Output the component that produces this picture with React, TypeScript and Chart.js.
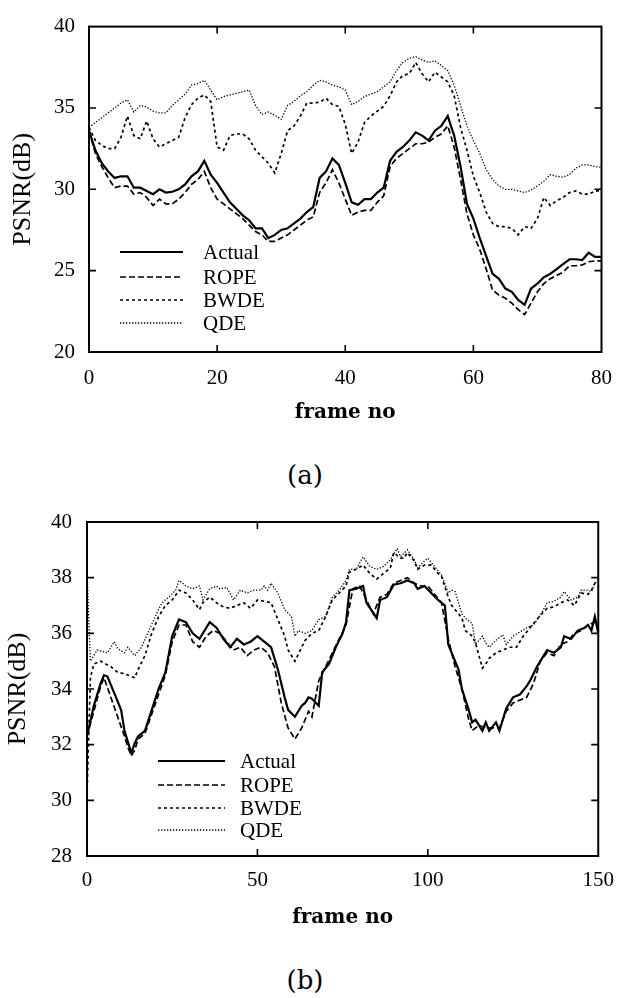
import React, { useEffect, useRef } from "react";
import { Chart, registerables } from "chart.js";

Chart.register(...registerables);

// ---------- Chart (a) data ----------
const framesA = [
  0, 1, 2, 3, 4, 5, 6, 7, 8, 9, 10, 11, 12, 13, 14, 15, 16, 17, 18, 19, 20,
  21, 22, 23, 24, 25, 26, 27, 28, 29, 30, 31, 32, 33, 34, 35, 36, 37, 38, 39, 40,
  41, 42, 43, 44, 45, 46, 47, 48, 49, 50, 51, 52, 53, 54, 55, 56, 57, 58, 59, 60,
  61, 62, 63, 64, 65, 66, 67, 68, 69, 70, 71, 72, 73, 74, 75, 76, 77, 78, 79, 80,
];
const actualA = [
  33.6, 32.4, 31.6, 31.1, 30.7, 30.8, 30.8, 30.1, 30.1, 29.9,
  29.7, 30.0, 29.8, 29.85, 30.0, 30.3, 30.8, 31.1, 31.75, 30.9,
  30.4, 29.8, 29.2, 28.8, 28.4, 28.1, 27.6, 27.6, 27.0, 27.2,
  27.5, 27.6, 27.9, 28.2, 28.6, 28.9, 30.7, 31.1, 31.9, 31.5,
  30.4, 29.2, 29.05, 29.4, 29.4, 29.8, 30.1, 31.75, 32.3, 32.6,
  33.0, 33.5, 33.3, 33.0, 33.6, 33.9, 34.5, 33.3, 31.4, 29.1,
  28.2, 27.0, 25.9, 24.8, 24.5, 23.9, 23.7, 23.2, 22.9, 23.9,
  24.2, 24.6, 24.8, 25.1, 25.4, 25.7, 25.7, 25.65, 26.1, 25.85, 25.85,
];
const ropeA = [
  33.6, 32.2, 31.4, 30.7, 30.1, 30.2, 30.2, 29.7, 29.8, 29.5,
  29.0, 29.4, 29.1, 29.1, 29.4, 29.8, 30.3, 30.6, 31.1, 30.1,
  29.4, 29.1, 28.8, 28.5, 28.2, 27.8, 27.4, 27.2, 26.8, 26.8,
  27.0, 27.2, 27.5, 27.8, 28.1, 28.3, 29.8, 30.4, 31.2, 30.4,
  29.4, 28.4, 28.6, 28.7, 28.7, 29.2, 29.6, 31.4, 31.9, 32.2,
  32.5, 32.8, 32.8, 32.9, 33.2, 33.4, 33.9, 32.6, 30.6, 28.5,
  27.2, 26.3, 25.1, 23.8, 23.5, 23.3, 23.0, 22.6, 22.3, 23.0,
  23.7, 24.2, 24.5, 24.7, 24.9, 25.3, 25.3, 25.35, 25.55, 25.6, 25.6,
];
const bwdeA = [
  33.8, 33.0, 32.7, 32.5, 32.5, 33.2, 34.5, 33.3, 33.1, 34.2,
  33.1, 32.6, 32.8, 33.0, 33.2, 34.4, 35.2, 35.6, 35.8, 35.4,
  32.6, 32.4, 33.3, 33.4, 33.4, 33.1, 32.4, 32.0, 31.6, 31.0,
  32.2, 33.6, 33.9, 34.5, 35.3, 35.3, 35.35, 35.6, 35.2, 35.1,
  34.0, 32.2, 32.9, 34.1, 34.5, 34.8, 35.1, 35.75, 36.6, 37.0,
  37.1, 37.8, 37.1, 36.6, 37.2, 36.9, 36.6, 35.75, 33.8, 32.4,
  30.8, 29.8, 28.6, 27.9, 27.7, 27.7, 27.6, 27.2, 27.7, 27.6,
  28.2, 29.5, 29.0, 29.3, 29.5, 29.8, 29.9, 29.7, 29.7, 29.9, 29.9,
];
const qdeA = [
  33.8, 34.1, 34.4, 34.7, 35.0, 35.3, 35.5, 34.75, 35.15, 35.05,
  34.8, 34.7, 34.7, 35.15, 35.5, 35.85, 36.4, 36.5, 36.7, 36.1,
  35.5, 35.7, 35.8, 35.9, 36.0, 36.1, 35.15, 34.6, 34.75, 34.55,
  34.3, 35.15, 35.4, 35.75, 36.0, 36.4, 36.7, 36.6, 36.4, 36.3,
  36.1, 35.2, 35.4, 35.7, 35.85, 36.0, 36.3, 36.6, 37.3, 37.8,
  38.05, 38.15, 37.95, 37.8, 37.9, 37.6, 37.3, 36.4, 35.15, 33.9,
  33.0, 32.2, 31.2, 30.6, 30.2, 30.0, 30.0, 29.9, 29.8, 29.95,
  30.2, 30.5, 30.9, 30.8, 30.75, 30.9, 31.3, 31.5, 31.5, 31.4, 31.35,
];

// ---------- Chart (b) data ----------
const actualBFrames = [0,2,4,5,6,8,10,11,13,14,15,17,19,21,23,25,27,29,31,33,35,36,38,40,42,44,46,48,50,52,54,56,58,59,61,63,64,65,66,68,69,71,73,75,76,77,79,81,82,85,86,88,90,92,94,96,97,99,101,103,105,106,107,109,110,112,113,114,116,117,118,120,121,123,125,127,129,130,132,134,135,137,139,140,142,144,146,147,148,149,150];
const actualBValues = [32.3,33.4,34.2,34.5,34.45,33.85,33.25,32.5,31.7,32.05,32.3,32.5,33.25,34.0,34.6,35.9,36.5,36.4,36.0,35.8,36.2,36.4,36.2,35.8,35.5,35.8,35.6,35.7,35.9,35.7,35.5,34.7,33.7,33.25,33.0,33.4,33.5,33.7,33.65,33.4,34.6,34.9,35.5,36.0,36.4,37.55,37.6,37.7,37.1,36.55,37.2,37.3,37.75,37.8,37.9,37.8,37.6,37.7,37.45,37.2,37.0,35.6,35.3,34.7,34.0,33.25,32.8,32.9,32.5,32.8,32.5,32.8,32.5,33.3,33.7,33.8,34.1,34.3,34.8,35.2,35.4,35.3,35.5,35.9,35.8,36.1,36.2,36.3,36.1,36.6,36.0];

const ropeBFrames = [0,2,4,5,7,9,11,12,13,14,15,17,19,21,23,25,27,29,31,33,35,37,39,41,43,45,47,49,51,53,55,57,59,61,63,65,66,68,70,72,74,76,78,80,82,84,86,88,90,92,94,96,98,100,102,104,106,108,110,112,113,115,117,119,121,123,125,127,129,131,133,135,137,139,141,143,145,147,149,150];
const ropeBValues = [32.3,33.2,34.1,34.4,33.7,33.0,32.3,31.9,31.6,31.8,32.2,32.4,33.1,33.8,34.5,35.7,36.3,36.3,35.7,35.5,35.9,36.1,36.0,35.7,35.4,35.5,35.2,35.4,35.5,35.3,34.8,33.5,32.6,32.2,32.6,33.2,33.0,34.3,34.8,35.3,35.8,36.3,37.6,37.7,37.2,36.7,37.3,37.4,37.8,37.9,38.0,37.8,37.7,37.7,37.4,37.1,35.8,34.8,34.0,32.9,32.5,32.7,32.6,32.6,32.6,33.2,33.5,33.6,33.7,34.2,35.0,35.3,35.2,35.6,35.7,36.0,36.1,36.3,36.4,36.5];

const bwdeBFrames = [0,1,2,4,7,9,11,14,15,17,19,21,23,25,27,29,31,33,34,36,38,40,42,44,46,48,50,52,54,56,58,59,61,63,64,66,68,70,72,74,76,77,79,81,83,85,87,89,90,92,93,94,96,97,99,101,103,104,106,107,108,110,111,113,114,116,117,118,120,122,124,126,128,129,131,133,135,137,139,141,143,145,147,148,149,150];
const bwdeBValues = [30.2,34.4,34.9,35.0,34.8,34.6,34.55,34.4,34.7,35.2,36.0,36.6,37.0,37.2,37.55,37.45,37.2,36.85,37.1,37.3,37.1,36.95,36.9,37.0,37.1,36.9,37.2,37.15,37.1,36.5,35.9,35.4,35.0,35.5,35.75,36.0,36.1,36.6,37.2,37.45,37.7,38.2,38.3,38.45,38.15,37.95,38.15,38.35,38.9,38.7,38.7,38.9,38.6,38.3,38.45,38.45,38.15,38.05,37.3,37.0,36.85,36.55,36.1,35.9,35.65,34.75,34.9,35.1,35.3,35.4,35.5,35.5,35.9,36.05,36.35,36.65,36.9,36.95,37.1,37.2,37.0,37.45,37.4,37.55,37.8,37.7];

const qdeBFrames = [0,1,3,6,8,9,11,12,14,16,18,20,22,24,26,27,29,31,33,34,36,38,39,41,43,45,47,49,51,52,53,54,56,58,60,61,62,64,66,68,70,72,74,76,77,79,81,83,85,87,89,91,92,94,96,97,99,100,102,104,106,107,108,110,111,113,114,116,117,118,120,122,123,125,127,129,131,133,135,137,139,140,142,144,145,147,148,149,150];
const qdeBValues = [38.2,35.0,35.4,35.3,35.7,35.45,35.3,35.5,35.2,35.5,36.05,36.6,37.1,37.3,37.55,37.9,37.7,37.6,37.7,37.2,37.6,37.7,37.6,37.65,37.2,37.55,37.45,37.55,37.55,37.7,37.55,37.8,37.45,36.85,36.6,35.9,36.1,36.0,36.1,36.5,36.6,37.3,37.55,37.9,38.3,38.3,38.75,38.4,38.3,38.4,38.65,39.05,38.75,39.0,38.65,38.35,38.6,38.7,38.4,38.1,37.45,37.55,37.5,36.7,36.55,36.35,35.6,35.9,35.65,35.5,35.75,35.95,35.6,35.9,36.05,36.2,36.3,36.65,37.1,37.15,37.3,37.5,37.2,37.3,37.55,37.55,37.5,37.8,37.9];

const seriesLabels = ["Actual", "ROPE", "BWDE", "QDE"];
const xTicksA = [0, 20, 40, 60, 80];
const yTicksA = [20, 25, 30, 35, 40];
const xTicksB = [0, 50, 100, 150];
const yTicksB = [28, 30, 32, 34, 36, 38, 40];

// line styles per series
const lineStyles = [
  { width: 2.2, dash: [] as number[] },
  { width: 1.7, dash: [6, 3] },
  { width: 1.7, dash: [3, 3] },
  { width: 1.3, dash: [1.3, 1.7] },
];

const pts = (xs: number[], ys: number[]) =>
  xs.slice(0, Math.min(xs.length, ys.length)).map((x, i) => ({ x, y: ys[i] }));

const TICK_FONT = { family: "'Liberation Serif', 'Times New Roman', serif", size: 21 };

const framePlugin = {
  id: "frameLegend",
  afterDatasetsDraw(chart: any, _args: any, opts: any) {
    const { ctx, chartArea: a, scales } = chart;
    ctx.save();
    ctx.strokeStyle = "#000";
    ctx.setLineDash([]);
    ctx.lineWidth = 2;
    ctx.strokeRect(a.left, a.top, a.right - a.left, a.bottom - a.top);
    const L = 7;
    ctx.lineWidth = 1.6;
    const xs = scales.x;
    xs.ticks.forEach((t: any) => {
      if (t.value <= xs.min || t.value >= xs.max) return;
      const px = xs.getPixelForValue(t.value);
      ctx.beginPath();
      ctx.moveTo(px, a.bottom);
      ctx.lineTo(px, a.bottom - L);
      ctx.moveTo(px, a.top);
      ctx.lineTo(px, a.top + L);
      ctx.stroke();
    });
    const ys = scales.y;
    ys.ticks.forEach((t: any) => {
      if (t.value <= ys.min || t.value >= ys.max) return;
      const py = ys.getPixelForValue(t.value);
      ctx.beginPath();
      ctx.moveTo(a.left, py);
      ctx.lineTo(a.left + L, py);
      ctx.moveTo(a.right, py);
      ctx.lineTo(a.right - L, py);
      ctx.stroke();
    });
    // legend
    const lg = opts;
    ctx.font = `21px 'Liberation Serif', 'Times New Roman', serif`;
    ctx.textBaseline = "middle";
    ctx.textAlign = "left";
    ctx.fillStyle = "#000";
    chart.data.datasets.forEach((ds: any, i: number) => {
      const y = a.bottom + lg.rows[i];
      ctx.lineWidth = ds.borderWidth;
      ctx.setLineDash(ds.borderDash || []);
      ctx.beginPath();
      ctx.moveTo(a.left + lg.x1, y);
      ctx.lineTo(a.left + lg.x2, y);
      ctx.stroke();
      ctx.setLineDash([]);
      ctx.fillText(ds.label, a.left + lg.tx, y + 1);
    });
    ctx.restore();
  },
};

type Cfg = {
  width: number;
  height: number;
  data: { x: number; y: number }[][];
  xMin: number;
  xMax: number;
  xStep: number;
  xTicks: number[];
  yMin: number;
  yMax: number;
  yStep: number;
  yTicks: number[];
  yAxisWidth: number;
  xAxisHeight: number;
  padTop: number;
  padRight: number;
  yTickPad: number;
  xTickPad: number;
  yTitlePad: number;
  xTitlePad: number;
  legend: { x1: number; x2: number; tx: number; rows: number[] };
};

function PlotCanvas({ cfg, style }: { cfg: Cfg; style: React.CSSProperties }) {
  const ref = useRef<HTMLCanvasElement | null>(null);
  useEffect(() => {
    if (!ref.current) return;
    const chart = new Chart(ref.current, {
      type: "line",
      data: {
        datasets: cfg.data.map((d, i) => ({
          label: seriesLabels[i],
          data: d,
          borderColor: "#000",
          backgroundColor: "#000",
          borderWidth: lineStyles[i].width,
          borderDash: lineStyles[i].dash,
          pointRadius: 0,
          tension: 0,
          fill: false,
        })),
      },
      options: {
        responsive: false,
        animation: false,
        devicePixelRatio: 1,
        layout: { padding: { left: 0, top: cfg.padTop, right: cfg.padRight, bottom: 0 } },
        plugins: {
          legend: { display: false },
          tooltip: { enabled: false },
          frameLegend: cfg.legend,
        } as any,
        scales: {
          x: {
            type: "linear",
            min: cfg.xMin,
            max: cfg.xMax,
            afterBuildTicks: (s: any) => {
              s.ticks = cfg.xTicks.map((v) => ({ value: v }));
            },
            ticks: { stepSize: cfg.xStep, color: "#000", font: TICK_FONT, padding: cfg.xTickPad, maxRotation: 0 },
            grid: { display: false, drawTicks: false },
            border: { display: false },
            title: {
              display: true,
              text: "frame no",
              color: "#000",
              font: { family: "'DejaVu Serif', serif", size: 20, weight: "bold" },
              padding: { top: 0, bottom: cfg.xTitlePad },
            },
            afterFit: (s: any) => {
              s.height = cfg.xAxisHeight;
            },
          },
          y: {
            type: "linear",
            min: cfg.yMin,
            max: cfg.yMax,
            afterBuildTicks: (s: any) => {
              s.ticks = cfg.yTicks.map((v) => ({ value: v }));
            },
            ticks: { stepSize: cfg.yStep, color: "#000", font: TICK_FONT, padding: cfg.yTickPad },
            grid: { display: false, drawTicks: false },
            border: { display: false },
            title: {
              display: true,
              text: "PSNR(dB)",
              color: "#000",
              font: { family: "'Liberation Serif', 'Times New Roman', serif", size: 26 },
              padding: { top: cfg.yTitlePad, bottom: 0 },
            },
            afterFit: (s: any) => {
              s.width = cfg.yAxisWidth;
            },
          },
        },
      },
      plugins: [framePlugin],
    } as any);
    return () => chart.destroy();
  }, [cfg]);
  return <canvas ref={ref} width={cfg.width} height={cfg.height} style={{ display: "block", ...style }} />;
}

const cfgA: Cfg = {
  width: 626,
  height: 440,
  data: [pts(framesA, actualA), pts(framesA, ropeA), pts(framesA, bwdeA), pts(framesA, qdeA)],
  xMin: 0,
  xMax: 80,
  xStep: 20,
  xTicks: xTicksA,
  yMin: 20,
  yMax: 40,
  yStep: 5,
  yTicks: yTicksA,
  yAxisWidth: 89,
  xAxisHeight: 88,
  padTop: 15,
  padRight: 14,
  yTickPad: 14,
  xTickPad: 14,
  yTitlePad: 8,
  xTitlePad: 15,
  legend: { x1: 31, x2: 94, tx: 114, rows: [-100, -75, -52, -29] },
};

const cfgB: Cfg = {
  width: 626,
  height: 450,
  data: [
    pts(actualBFrames, actualBValues),
    pts(ropeBFrames, ropeBValues),
    pts(bwdeBFrames, bwdeBValues),
    pts(qdeBFrames, qdeBValues),
  ],
  xMin: 0,
  xMax: 150,
  xStep: 50,
  xTicks: xTicksB,
  yMin: 28,
  yMax: 40,
  yStep: 2,
  yTicks: yTicksB,
  yAxisWidth: 87,
  xAxisHeight: 84,
  padTop: 32,
  padRight: 18,
  yTickPad: 15,
  xTickPad: 12,
  yTitlePad: 3,
  xTitlePad: 10,
  legend: { x1: 71, x2: 138, tx: 153, rows: [-95, -71, -48, -26] },
};

const captionStyle: React.CSSProperties = {
  position: "absolute",
  left: 255,
  width: 100,
  textAlign: "center",
  fontFamily: "'DejaVu Serif', serif",
  fontSize: 26,
  lineHeight: "30px",
  color: "#000",
};

export default function App() {
  return (
    <div style={{ position: "absolute", left: 0, top: 0, width: 626, height: 998, background: "#fff", overflow: "hidden" }}>
      <PlotCanvas cfg={cfgA} style={{ position: "absolute", left: 0, top: 0 }} />
      <div style={{ ...captionStyle, top: 460 }}>(a)</div>
      <PlotCanvas cfg={cfgB} style={{ position: "absolute", left: 0, top: 490 }} />
      <div style={{ ...captionStyle, top: 965 }}>(b)</div>
    </div>
  );
}
